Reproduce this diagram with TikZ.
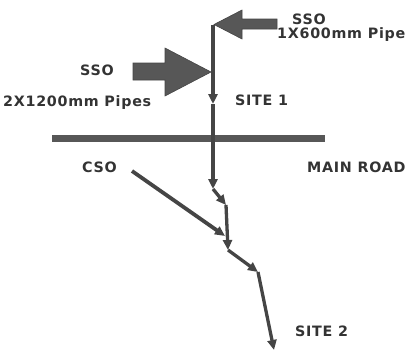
\documentclass[tikz,border=0pt]{standalone}
\usepackage{fontspec}
\newfontfamily\lblfont[LetterSpace=5]{DejaVu Sans Bold}
\usetikzlibrary{arrows.meta}
\definecolor{inkgray}{HTML}{333333}
\definecolor{pipegray}{HTML}{454545}
\definecolor{fillgray}{HTML}{575757}
\tikzset{
  lbl/.style={inner sep=0pt, anchor=base west, text=inkgray, font=\lblfont\fontsize{14.3}{16}\selectfont},
  pipe/.style={draw=pipegray, line width=3.3pt, -{Triangle[length=10pt,width=9pt]}},
  bigarrow/.style={fill=fillgray, draw=pipegray, line width=0.6pt},
  road/.style={fill=fillgray, draw=none}
}
\begin{document}
\begin{tikzpicture}[x=1pt,y=-1pt]
\useasboundingbox (0,0) rectangle (408,351);
% road
\fill[road] (52,134.5) rectangle (325,141.5);
% junction points
\coordinate (j0) at (213,25);
\coordinate (m1) at (213,104);
\coordinate (j1) at (213,189);
\coordinate (j2) at (226,205);
\coordinate (j3) at (228,250);
\coordinate (j4) at (258,272);
\coordinate (j5) at (274,350);
\coordinate (c0) at (132,171);
\coordinate (c1) at (225,236);
% big inflow arrows
\path[bigarrow] (277,19) -- (242,19) -- (242,10) -- (214,24.5) -- (242,39) -- (242,29) -- (277,29) -- cycle;
\path[bigarrow] (133,63) -- (165,63) -- (165,48) -- (211,72) -- (165,96) -- (165,80) -- (133,80) -- cycle;
% pipes
\draw[pipe] (j0) -- (m1);
\draw[pipe] (m1) -- (j1);
\draw[pipe] (j1) -- (j2);
\draw[pipe] (j2) -- (j3);
\draw[pipe] (j3) -- (j4);
\draw[pipe] (j4) -- (j5);
\draw[pipe, line width=3.8pt] (c0) -- (c1);
% labels
\node[lbl] (sso1) at (292,24) {SSO};
\node[lbl] (pipe1) at (277,38.5) {1X600mm Pipe};
\node[lbl] (sso2) at (80,75) {SSO};
\node[lbl] (pipe2) at (3,106) {2X1200mm Pipes};
\node[lbl] (site1) at (235,105) {SITE 1};
\node[lbl] (cso) at (82,172) {CSO};
\node[lbl] (road1) at (307,172) {MAIN ROAD};
\node[lbl] (site2) at (295,336) {SITE 2};
\end{tikzpicture}
\end{document}
